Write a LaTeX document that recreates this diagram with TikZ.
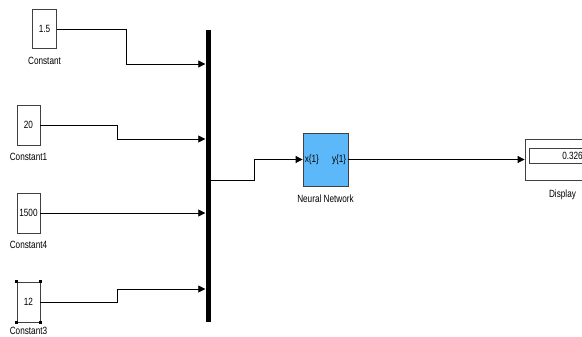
\documentclass[tikz,border=0pt]{standalone}
\usepackage{fontspec}
\setmainfont{Liberation Sans}[FakeStretch=0.78]
\usetikzlibrary{arrows.meta,positioning}
\definecolor{nnbleu}{RGB}{92,184,248}
\begin{document}
\begin{tikzpicture}[x=1pt, y=-1pt, >={Triangle[length=7pt,width=7pt]},
  font=\fontsize{10.5}{12}\selectfont,
  bloc/.style={draw=black!75, line width=0.8pt, fill=white, inner sep=0pt},
  sig/.style={->, line width=0.8pt},
  legende/.style={inner sep=0pt}]
  \useasboundingbox (0,0) rectangle (582,337);

  % Blocs constants, à gauche.
  \node[bloc, minimum width=24pt, minimum height=39pt] (c0) at (44.5,29) {1.5};
  \node[legende, below=8pt of c0] (l0) {Constant};
  \node[bloc, minimum width=23pt, minimum height=40pt] (c1) at (28.5,125) {20};
  \node[legende, below=8pt of c1] (l1) {Constant1};
  \node[bloc, minimum width=23pt, minimum height=40pt] (c4) at (28.5,213) {1500};
  \node[legende, below=8pt of c4] (l4) {Constant4};
  \node[bloc, minimum width=23pt, minimum height=40pt] (c3) at (28.5,302) {12};
  \node[legende, below=5pt of c3] (l3) {Constant3};

  % Poignées de sélection du dernier bloc.
  \foreach \a in {north west, north east, south west, south east}
    \fill (c3.\a) ++(-1.6,-1.6) rectangle ++(3.2,3.2);

  % Barre de multiplexage.
  \node[fill=black, inner sep=0pt, minimum width=5pt, minimum height=292pt] (bar) at (208,176) {};
  \coordinate (e0) at (bar.west |- 0,64);
  \coordinate (e1) at (bar.west |- 0,139);
  \coordinate (e2) at (bar.west |- c4.east);
  \coordinate (e3) at (bar.west |- 0,289);
  \coordinate (s) at (bar.east |- 0,180);

  \draw[sig] (c0.east) -- ++(69,0) |- (e0);
  \draw[sig] (c1.east) -- ++(77,0) |- (e1);
  \draw[sig] (c4.east) -- (e2);
  \draw[sig] (c3.east) -- ++(77,0) |- (e3);

  % Réseau de neurones.
  \node[bloc, fill=nnbleu, minimum width=45pt, minimum height=53pt] (nn) at (325.5,159.5) {};
  \node[legende, anchor=west] (nnx) at ([xshift=2pt]nn.west) {x\{1\}};
  \node[legende, anchor=east] (nny) at ([xshift=-2pt]nn.east) {y\{1\}};
  \node[legende, below=8pt of nn] (lnn) {Neural Network};
  \draw[sig] (s) -- ++(44,0) |- (nn.west);

  % Afficheur, coupé par le bord droit.
  \node[bloc, minimum width=75pt, minimum height=41pt] (disp) at (562.5,159.5) {};
  \node[bloc, minimum width=66pt, minimum height=15pt] (val) at (562,155.5) {};
  \node[legende, anchor=east] (valt) at (583,155.5) {0.326};
  \node[legende, below=9pt of disp] (ldisp) {Display};
  \draw[sig] (nn.east) -- (disp.west |- nn.east);

\end{tikzpicture}
\end{document}
